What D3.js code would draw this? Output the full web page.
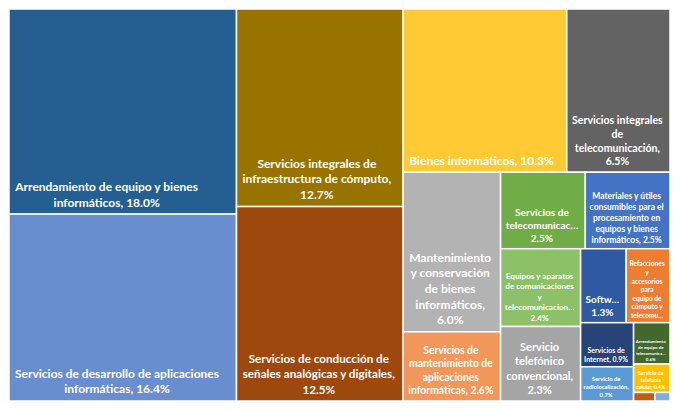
<!DOCTYPE html>
<html>
<head>
<meta charset="utf-8">
<script src="https://cdn.jsdelivr.net/npm/d3@7"></script>
<style>
  body { margin: 0; background: #fff; }
  svg text { font-family: Lato, "Open Sans", sans-serif; font-weight: 700; fill: #fff; }
</style>
</head>
<body>
<div id="chart"></div>
<script>
// categories as they show in the chart, values in %
const categories = [
  "Arrendamiento de equipo y bienes informáticos",
  "Servicios de desarrollo de aplicaciones informáticas",
  "Servicios integrales de infraestructura de cómputo",
  "Servicios de conducción de señales analógicas y digitales",
  "Bienes informáticos",
  "Servicios integrales de telecomunicación",
  "Mantenimiento y conservación de bienes informáticos",
  "Servicios de mantenimiento de aplicaciones informáticas",
  "Servicios de telecomunicaciones",
  "Materiales y útiles consumibles para el procesamiento en equipos y bienes informáticos",
  "Equipos y aparatos de comunicaciones y telecomunicaciones",
  "Servicio telefónico convencional",
  "Software",
  "Refacciones y accesorios para equipo de cómputo y telecomunicaciones",
  "Servicios de Internet",
  "Servicio de radiolocalización",
  "Arrendamiento de equipo de telecomunicaciones",
  "Servicio de telefonía celular",
  "Otros 1",
  "Otros 2"
];
const values = [18.0, 16.4, 12.7, 12.5, 10.3, 6.5, 6.0, 2.6, 2.5, 2.5, 2.4, 2.3, 1.3, 1.25, 0.9, 0.7, 0.58, 0.4, 0.07, 0.05];
// label text as Excel wrapped / truncated it
const labels = [
  ["Arrendamiento de equipo y bienes", "informáticos, 18.0%"],
  ["Servicios de desarrollo de aplicaciones", "informáticas, 16.4%"],
  ["Servicios integrales de", "infraestructura de cómputo,", "12.7%"],
  ["Servicios de conducción de", "señales analógicas y digitales,", "12.5%"],
  ["Bienes informáticos, 10.3%"],
  ["Servicios integrales", "de", "telecomunicación,", "6.5%"],
  ["Mantenimiento", "y conservación", "de bienes", "informáticos,", "6.0%"],
  ["Servicios de", "mantenimiento de", "aplicaciones", "informáticas, 2.6%"],
  ["Servicios de", "telecomunicac…", "2.5%"],
  ["Materiales y útiles", "consumibles para el", "procesamiento en", "equipos y bienes", "informáticos, 2.5%"],
  ["Equipos y aparatos", "de comunicaciones", "y", "telecomunicacion…", "2.4%"],
  ["Servicio", "telefónico", "convencional,", "2.3%"],
  ["Softw…", "1.3%"],
  ["Refacciones", "y", "accesorios", "para", "equipo de", "cómputo y", "telecomu…"],
  ["Servicios de", "Internet, 0.9%"],
  ["Servicio de", "radiolocalización,", "0.7%"],
  ["Arrendamiento", "de equipo de", "telecomunica…", "0.6%"],
  ["Servicio de", "telefonía", "celular, 0.4%"],
  [],
  []
];
const palette = [
  "#255E91", "#698ED0", "#997300", "#9E480E", "#FFCA33", "#636363",
  "#B3B3B3", "#F1975A", "#70AD47", "#4472C4", "#8CC168", "#A5A5A5",
  "#2F5AA3", "#ED7D31", "#264478", "#5B9BD5", "#43682B", "#FFC000",
  "#C55A11", "#7CAFDD"
];

const w = 680;
const h = 411;
const margin = { top: 9, right: 10, bottom: 10, left: 9 };
const innerW = w - margin.left - margin.right;
const innerH = h - margin.top - margin.bottom;
const maxFont = 12;
const lineH = 1.3;

const color = d3.scaleOrdinal(categories, palette);

const svg = d3
  .select("#chart")
  .append("svg")
  .attr("width", w)
  .attr("height", h);

const g = svg.append("g").attr("transform", `translate(${margin.left},${margin.top})`);

const root = d3
  .hierarchy({
    children: categories.map((c, i) => ({ name: c, value: values[i], label: labels[i] })),
  })
  .sum((d) => d.value || 0)
  .sort((a, b) => b.value - a.value);

d3.treemap().tile(d3.treemapSquarify.ratio(1)).size([innerW, innerH])(root);

// measure text with canvas so the label can be shrunk to fit its cell
const ctx = document.createElement("canvas").getContext("2d");
const measure = (t, s) => {
  ctx.font = `700 ${s}px Lato`;
  return ctx.measureText(t).width;
};

const cells = g
  .selectAll("g.cell")
  .data(root.leaves())
  .enter()
  .append("g")
  .attr("class", "cell");

cells
  .append("rect")
  .attr("x", (d) => d.x0)
  .attr("y", (d) => d.y0)
  .attr("width", (d) => d.x1 - d.x0)
  .attr("height", (d) => d.y1 - d.y0)
  .style("fill", (d) => color(d.data.name))
  .style("stroke", "#fff")
  .style("stroke-width", 1.5);

cells.each(function (d) {
  const lines = d.data.label;
  if (!lines.length) return;
  const cw = d.x1 - d.x0;
  const ch = d.y1 - d.y0;
  const k = d3.max(lines, (t) => measure(t, 1));
  const n = lines.length;
  const s = Math.min(maxFont, (cw - 2) / (k + 1), (ch - 2) / ((n - 1) * lineH + 1.35));
  const pad = 0.5 * s;
  const blockW = k * s;
  const cx = d.x0 + pad + blockW / 2;
  const bottom = d.y1 - (0.55 * s + 1);
  const text = d3
    .select(this)
    .append("text")
    .attr("text-anchor", "middle")
    .style("font-size", s + "px");
  lines.forEach((t, i) => {
    text
      .append("tspan")
      .attr("x", cx)
      .attr("y", bottom - (n - 1 - i) * lineH * s)
      .text(t);
  });
});
</script>
</body>
</html>
